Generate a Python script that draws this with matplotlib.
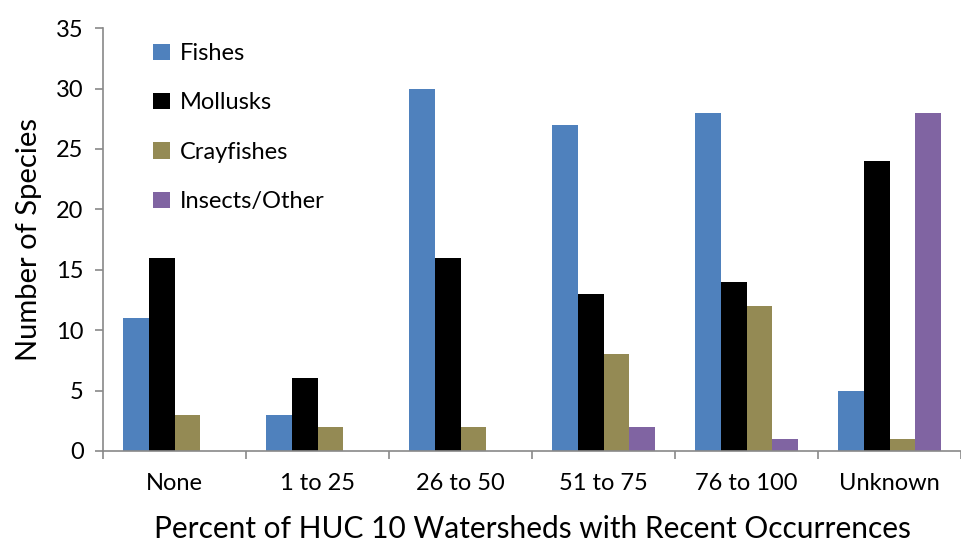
import matplotlib.pyplot as plt
import numpy as np

plt.rcParams['font.family'] = ['Lato', 'DejaVu Sans']

categories = ["None", "1 to 25", "26 to 50", "51 to 75", "76 to 100", "Unknown"]
fishes = [11, 3, 30, 27, 28, 5]
mollusks = [16, 6, 16, 13, 14, 24]
crayfishes = [3, 2, 2, 8, 12, 1]
insects = [0, 0, 0, 2, 1, 28]

series = [("Fishes", fishes, "#4F81BD"),
          ("Mollusks", mollusks, "#000000"),
          ("Crayfishes", crayfishes, "#948A54"),
          ("Insects/Other", insects, "#8064A2")]

fig = plt.figure(figsize=(9.61, 5.42), dpi=100)
ax = fig.add_axes([0.1072, 0.168, 0.8928, 0.780])

x = np.arange(len(categories))
w = 0.18
for i, (name, vals, col) in enumerate(series):
    ax.bar(x + (i - 1.5) * w, vals, w, color=col, label=name)

ax.set_xlim(-0.5, len(categories) - 0.5)
ax.set_ylim(0, 35)
ax.set_yticks(range(0, 36, 5))
ax.set_xticks(x)
ax.set_xticklabels(categories)
ax.set_xticks(np.arange(-0.5, len(categories), 1), minor=True)
ax.tick_params(axis='x', which='major', length=0, labelsize=17, pad=16)
ax.tick_params(axis='x', which='minor', length=6, color='#898989', width=1.2)
ax.tick_params(axis='y', length=6, color='#898989', width=1.2, labelsize=17, pad=8)

for s in ['top', 'right']:
    ax.spines[s].set_visible(False)
for s in ['left', 'bottom']:
    ax.spines[s].set_color('#898989')
    ax.spines[s].set_linewidth(1.2)

ax.set_ylabel("Number of Species", fontsize=21, labelpad=10)
ax.set_xlabel("Percent of HUC 10 Watersheds with Recent Occurrences", fontsize=21.5, labelpad=15)

ax.legend(loc='upper left', bbox_to_anchor=(0.034, 1.015), frameon=False, fontsize=17,
          handlelength=0.7, handleheight=0.7, handletextpad=0.4, labelspacing=1.2)

fig.savefig("out.png")
